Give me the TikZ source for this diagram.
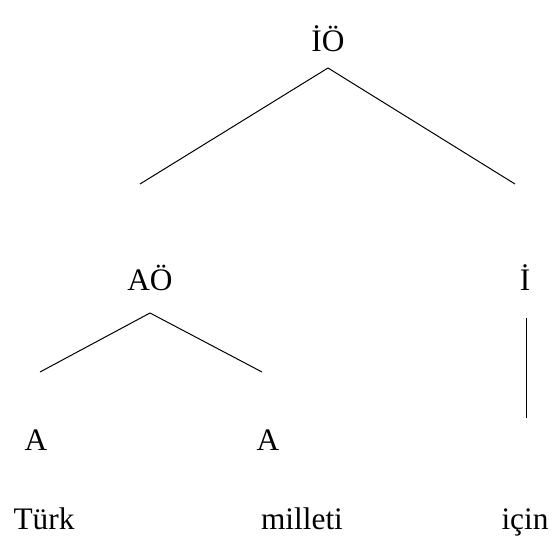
\documentclass[tikz,border=0pt]{standalone}
\usepackage{fontspec}
\setmainfont{Liberation Serif}
\usetikzlibrary{positioning}

\tikzset{
  word/.style={anchor=base, inner sep=0pt, font=\fontsize{23.5}{28}\selectfont},
  branch/.style={line width=0.75pt}
}

\begin{document}
\begin{tikzpicture}[x=0.75pt, y=-0.75pt]
        \useasboundingbox (0,0) rectangle (556,538);
        % labels
        \node[word] (io) at (328,52) {İÖ};
        \node[word] (ao) at (150,290) {AÖ};
        \node[word] (i) at (525,290) {İ};
        \node[word] (a1) at (36,450) {A};
        \node[word] (a2) at (268,450) {A};
        \node[word] (turk) at (44,529) {Türk};
        \node[word] (milleti) at (302,529) {milleti};
        \node[word] (icin) at (525,529) {için};
        % branch ends
        \coordinate (io-top) at (328,68);
        \coordinate (io-left) at (140,184);
        \coordinate (io-right) at (515,184);
        \coordinate (ao-top) at (150,313);
        \coordinate (ao-left) at (40,372);
        \coordinate (ao-right) at (262,372);
        \coordinate (i-top) at (526,318);
        \coordinate (i-bot) at (526,418);
        \draw[branch] (io-top) -- (io-left);
        \draw[branch] (io-top) -- (io-right);
        \draw[branch] (ao-top) -- (ao-left);
        \draw[branch] (ao-top) -- (ao-right);
        \draw[branch] (i-top) -- (i-bot);
      \end{tikzpicture}
\end{document}
